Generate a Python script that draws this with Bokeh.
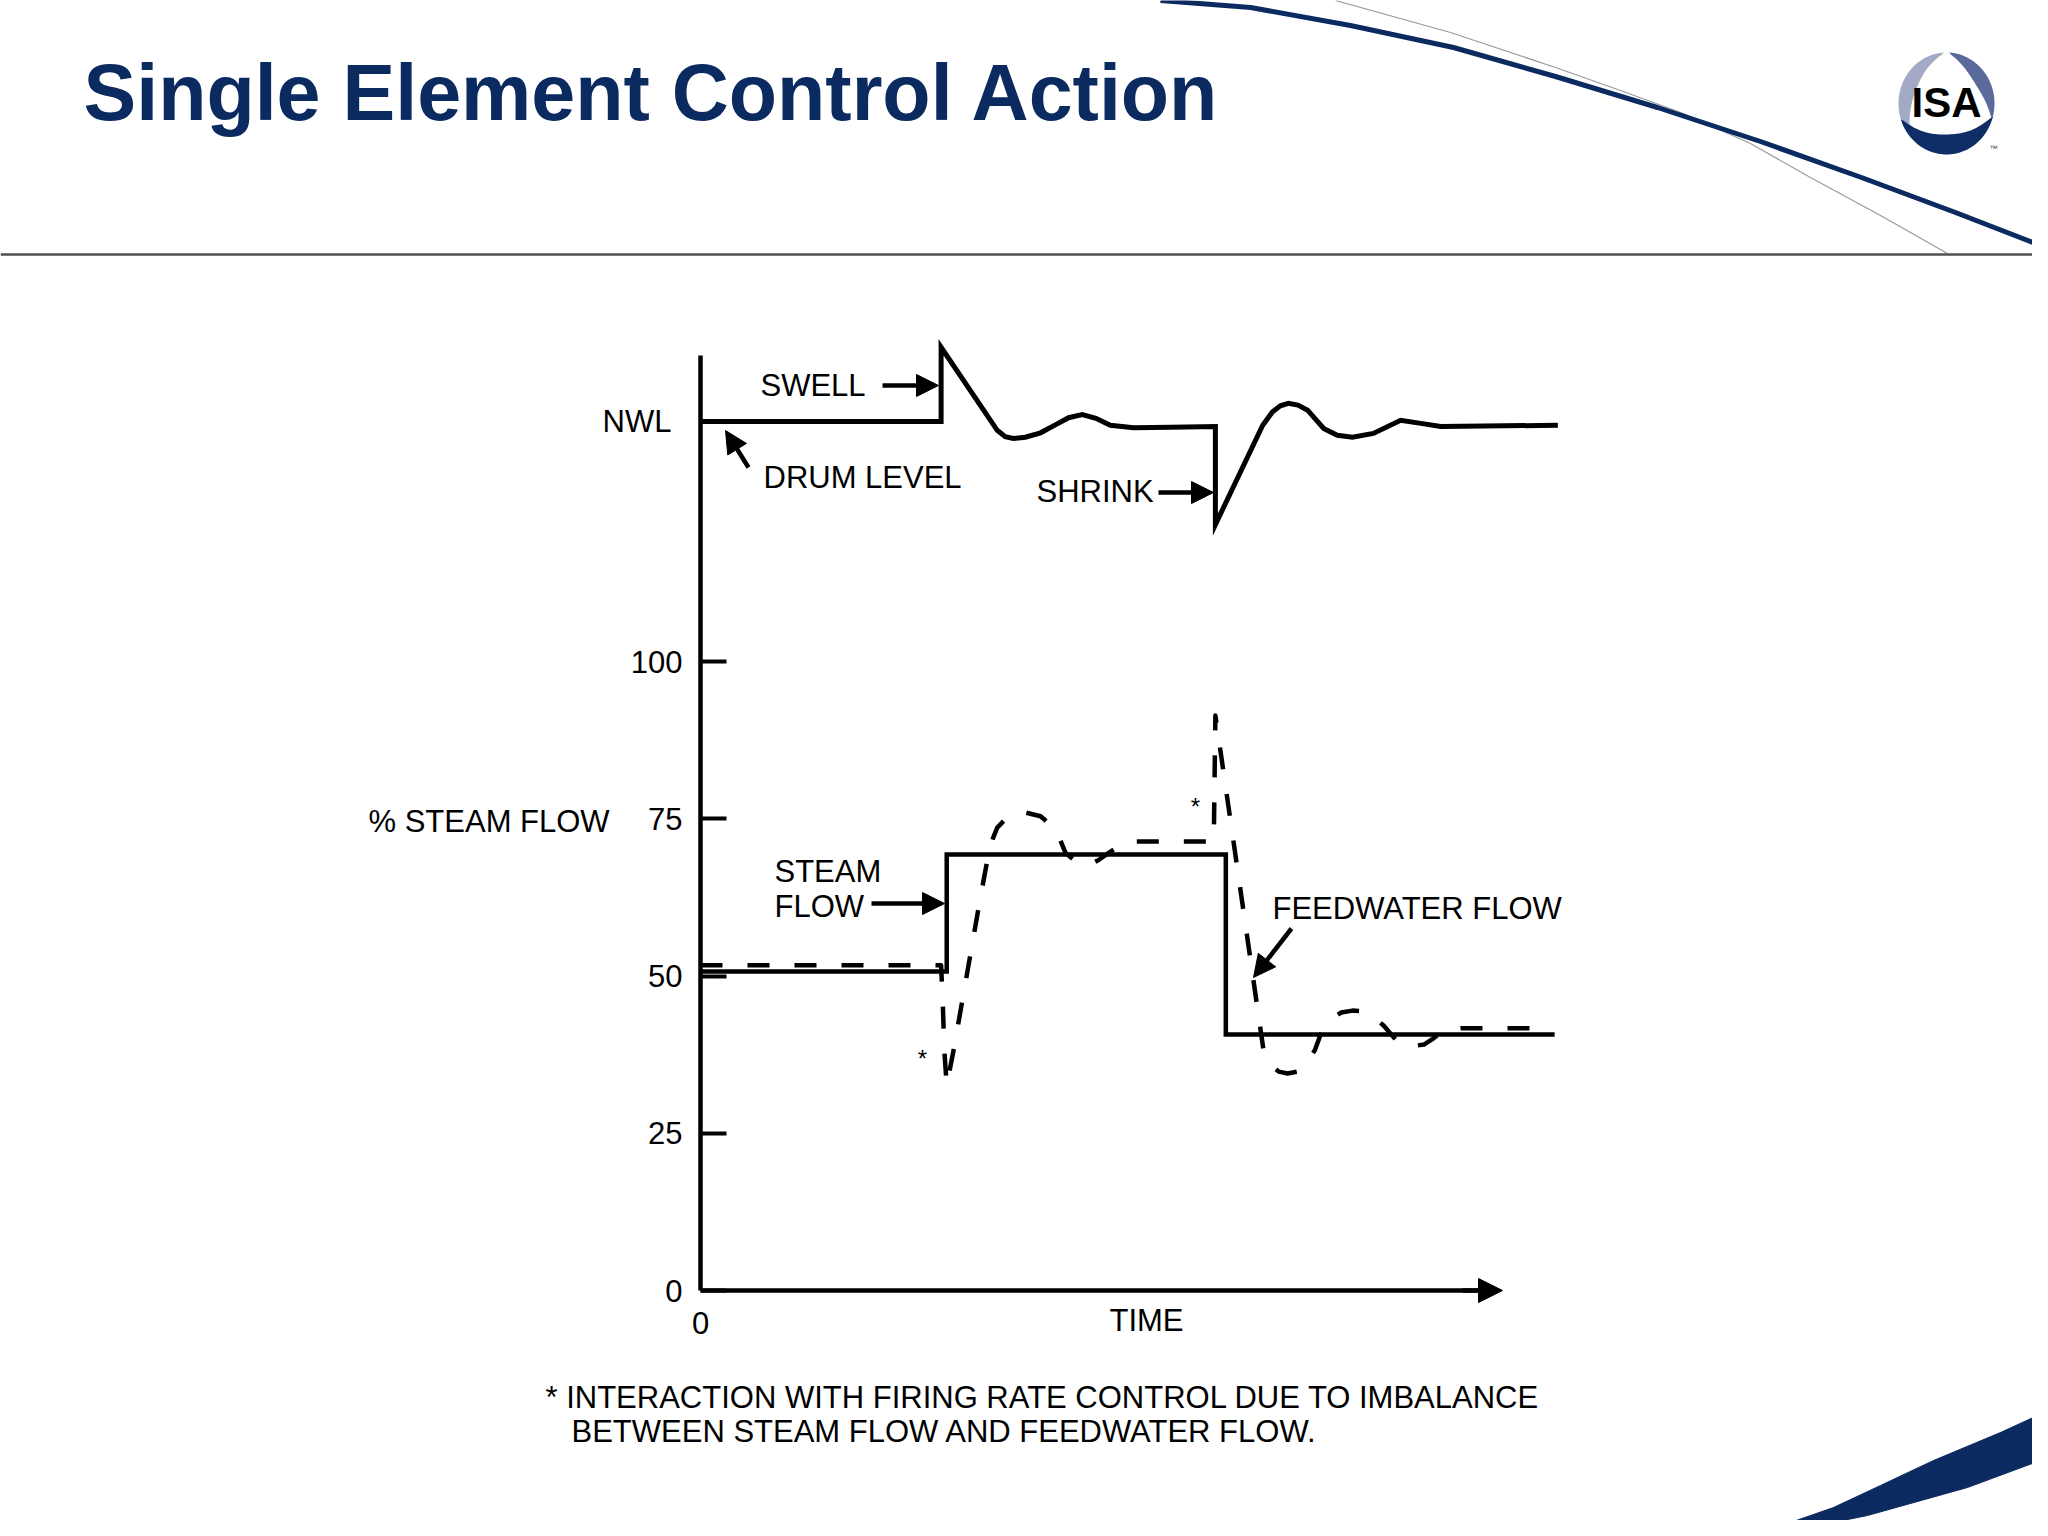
import numpy as np
from bokeh.plotting import figure
from bokeh.models import Range1d, LinearAxis, FixedTicker, Arrow, NormalHead
from bokeh.core.properties import value
from bokeh.embed import file_html
from bokeh.resources import INLINE

# ---------------- data ----------------
y_ticks = [0, 25, 50, 75, 100]
x_ticks = [0]
nwl_tick = [0]

# drum level (deviation from NWL, arbitrary units) vs time
drum_t = [0.0, 30.0, 30.0, 37.0, 38.0, 39.0, 40.5, 42.4, 44.3, 45.9,
          47.6, 49.3, 51.1, 54.0, 58.6, 64.2, 64.2, 70.1, 71.3, 72.3,
          73.3, 74.5, 75.7, 77.7, 79.4, 81.3, 83.9, 87.3, 89.8, 92.3,
          106.9]
drum_level = [0.0, 0.0, 11.8, -1.4, -2.4, -2.7, -2.5, -1.8, -0.5, 0.6,
              1.1, 0.5, -0.6, -1.0, -0.9, -0.8, -16.4, -0.6, 1.5, 2.5,
              2.9, 2.6, 1.8, -1.1, -2.2, -2.5, -1.9, 0.2, -0.3, -0.8,
              -0.6]

# steam flow (%) vs time
steam_t = [0.0, 30.7, 30.7, 65.5, 65.5, 106.5]
steam_pct = [50.7, 50.7, 69.3, 69.3, 40.7, 40.7]

# feedwater flow (%) vs time
feed_t = [0.0, 30.0, 30.2, 30.4, 30.7, 31.6, 32.8, 33.9, 34.9, 36.0,
          36.5, 37.0, 38.0, 39.4, 40.5, 42.4, 43.6, 44.5, 45.5, 47.0,
          48.4, 49.6, 50.8, 52.4, 54.2, 64.0, 64.2, 70.2, 71.1, 72.1,
          73.2, 74.4, 75.6, 76.6, 77.4, 78.6, 79.9, 81.3, 82.5, 83.8,
          85.2, 87.0, 88.5, 90.2, 91.4, 92.3, 93.5, 94.8, 104.7]
feed_pct = [51.7, 51.7, 46.1, 38.2, 32.6, 38.5, 47.2, 55.2, 62.5, 70.0,
            72.0, 73.6, 74.9, 75.8, 76.0, 75.4, 74.1, 72.7, 69.6, 68.0,
            67.7, 68.4, 69.5, 70.8, 71.4, 71.4, 91.4, 38.2, 35.9, 34.8,
            34.5, 34.8, 36.3, 38.2, 41.0, 43.2, 44.2, 44.5, 44.4, 43.6,
            42.1, 39.4, 38.8, 39.1, 40.1, 41.0, 41.5, 41.7, 41.7]

# ---------------- layout constants ----------------
W, H = 2032, 1520
OFF = 0
AX_X, AX_Y, NWL_Y = 700, 1290, 421   # page pixel positions of t=0, 0 %, NWL
SX, SY = 8.02, 6.29                  # pixels per time unit / per % unit

FONT = value("Liberation Sans")
FS = "31px"
NAVY = "#0a2a60"

x_range = Range1d((OFF - AX_X) / SX, (OFF + W - AX_X) / SX)
y_range = Range1d((AX_Y - (OFF + H)) / SY, (AX_Y - OFF) / SY)

p = figure(width=W, height=H, x_range=x_range, y_range=y_range,
           x_axis_type=None, y_axis_type=None, output_backend="svg",
           toolbar_location=None, min_border=0, title=None)
p.outline_line_color = None
p.background_fill_color = "white"
p.border_fill_color = "white"

p.extra_x_ranges = {"page": Range1d(OFF, OFF + W)}
p.extra_y_ranges = {"page": Range1d(OFF + H, OFF),
                    "level": Range1d((NWL_Y - (OFF + H)) / SY, (NWL_Y - OFF) / SY)}
PG = dict(x_range_name="page", y_range_name="page")

# ---------------- slide decoration ----------------
p.line([1335, 1450, 1555, 1620, 1683, 1750, 1810, 1880, 1947],
       [0, 32, 67, 90, 113, 143, 177, 215, 253],
       line_color="#9a9a9a", line_width=1.2, **PG)
p.line([1160, 1250, 1350, 1453, 1555, 1657, 1760, 1861, 1955, 2048],
       [0, 7, 25, 47, 76, 107, 141, 177, 212, 248],
       line_color=NAVY, line_width=5, **PG)
p.line([0, 2048], [254, 254], line_color="#505050", line_width=2.5, **PG)
p.patch([1745, 1790, 1833, 1880, 1933, 2000, 2048, 2048, 1967, 1867, 1783, 1745],
        [1536, 1522, 1507, 1485, 1460, 1432, 1410, 1457, 1487, 1515, 1532, 1540],
        fill_color=NAVY, line_color=NAVY, line_width=1, **PG)

# ISA logo
def crescent(cx, cy, rx, ry, a1, a2, wmax, n=60):
    th = np.radians(np.linspace(a1, a2, n))
    w = wmax * np.sin(np.pi * np.linspace(0, 1, n)) ** 0.8
    ox = cx + rx * np.cos(th)
    oy = cy - ry * np.sin(th)
    ix = cx + (rx - w) * np.cos(th)
    iy = cy - (ry - w) * np.sin(th)
    return list(ox) + list(ix[::-1]), list(oy) + list(iy[::-1])

LCX, LCY, LRX, LRY = 1946, 103, 48, 51
for a1, a2, wm, col in [(93, 222, 15, "#a3aac6"), (-18, 87, 14, "#5a6a9b"),
                        (198, 345, 20, "#0f2d67")]:
    xs, ys = crescent(LCX, LCY, LRX, LRY, a1, a2, wm)
    p.patch(xs, ys, fill_color=col, line_color=None, **PG)
p.text([LCX], [102], text=["ISA"],
       text_font=value("Liberation Sans Narrow, Liberation Sans"),
       text_font_style="bold", text_font_size="42px", text_color="black",
       text_align="center", text_baseline="middle", **PG)
p.text([1993], [148], text=["™"], text_font=FONT, text_font_size="8px",
       text_color="#333333", text_align="center", text_baseline="middle", **PG)

# title
p.text([83], [92], text=["Single Element Control Action"], text_font=FONT,
       text_font_style="bold", text_font_size="79px", text_color=NAVY,
       text_align="left", text_baseline="middle", **PG)

# ---------------- axes ----------------
yax = LinearAxis(fixed_location=0, bounds=(0, (AX_Y - 355) / SY),
                 ticker=FixedTicker(ticks=y_ticks))
yax.axis_line_width = 4.5
yax.axis_line_color = "black"
yax.major_tick_in = 26
yax.major_tick_out = 0
yax.major_tick_line_width = 4
yax.major_tick_line_color = "black"
yax.minor_tick_line_color = None
yax.major_label_standoff = 18
yax.major_label_text_font = "Liberation Sans"
yax.major_label_text_font_size = FS
yax.major_label_text_color = "black"
p.add_layout(yax, "left")

nwl = LinearAxis(y_range_name="level", fixed_location=0,
                 ticker=FixedTicker(ticks=nwl_tick),
                 major_label_overrides={0: "NWL"})
nwl.axis_line_color = None
nwl.major_tick_line_color = None
nwl.minor_tick_line_color = None
nwl.major_label_standoff = 23
nwl.major_label_text_font = "Liberation Sans"
nwl.major_label_text_font_size = FS
nwl.major_label_text_color = "black"
p.add_layout(nwl, "left")

xax = LinearAxis(fixed_location=0, bounds=(0, 98), ticker=FixedTicker(ticks=x_ticks))
xax.axis_line_width = 4.5
xax.axis_line_color = "black"
xax.major_tick_in = 0
xax.major_tick_out = 0
xax.major_tick_line_color = None
xax.minor_tick_line_color = None
xax.major_label_standoff = 21
xax.major_label_text_font = "Liberation Sans"
xax.major_label_text_font_size = FS
xax.major_label_text_color = "black"
xax.major_label_text_align = "left"
p.add_layout(xax, "below")

p.add_layout(Arrow(end=NormalHead(size=24, fill_color="black", line_color="black"),
                   x_start=95, y_start=0, x_end=100, y_end=0,
                   line_width=4.5, line_color="black"))

# ---------------- data lines ----------------
p.line(drum_t, drum_level, y_range_name="level", line_color="black",
       line_width=5, line_join="miter")
p.line(steam_t, steam_pct, line_color="black", line_width=4.5, line_join="miter")
p.line(feed_t, feed_pct, line_color="black", line_width=4.5,
       line_dash="22 25", line_join="round")

# ---------------- chart labels ----------------
labels_x = [368, 760, 763, 1036, 774, 774, 1272]
labels_y = [821, 385, 477, 491, 871, 906, 908]
labels_t = ["% STEAM FLOW", "SWELL", "DRUM LEVEL", "SHRINK", "STEAM", "FLOW",
            "FEEDWATER FLOW"]
p.text(labels_x, labels_y, text=labels_t, text_font=FONT, text_font_size=FS,
       text_color="black", text_align="left", text_baseline="middle", **PG)
p.text([1146], [1320], text=["TIME"], text_font=FONT, text_font_size=FS,
       text_color="black", text_align="center", text_baseline="middle", **PG)
p.text([922, 1195], [1058, 806], text=["*", "*"], text_font=FONT,
       text_font_size="24px", text_color="black", text_align="center",
       text_baseline="middle", **PG)

# footnote
p.text([545, 571], [1397, 1431],
       text=["* INTERACTION WITH FIRING RATE CONTROL DUE TO IMBALANCE",
             "BETWEEN STEAM FLOW AND FEEDWATER FLOW."],
       text_font=FONT, text_font_size=FS, text_color="black",
       text_align="left", text_baseline="middle", **PG)

# annotation arrows
for (x0, y0, x1, y1) in [(882, 385, 938, 385), (748, 467, 725, 430),
                         (1158, 492, 1213, 492), (871, 903, 944, 903),
                         (1291, 928, 1253, 977)]:
    p.add_layout(Arrow(end=NormalHead(size=22, fill_color="black", line_color="black"),
                       x_start=x0, y_start=y0, x_end=x1, y_end=y1,
                       line_width=4.5, line_color="black", **PG))

open("out.html", "w").write(file_html(p, INLINE))
